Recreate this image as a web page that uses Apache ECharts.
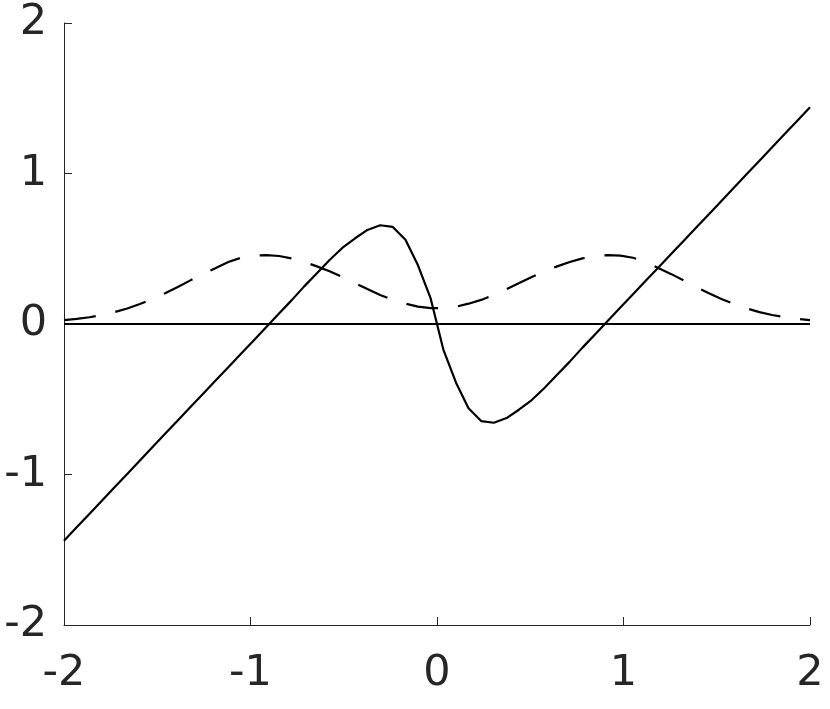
<!DOCTYPE html>
<html>
<head>
<meta charset="utf-8">
<script src="https://cdn.jsdelivr.net/npm/echarts@6/dist/echarts.min.js"></script>
<style>html,body{margin:0;padding:0;background:#fff;}#c{width:830px;height:709px;}</style>
</head>
<body>
<div id="c"></div>
<script>
var xs = [-2.000,-1.932,-1.864,-1.797,-1.729,-1.661,-1.593,-1.525,-1.458,-1.390,
  -1.322,-1.254,-1.186,-1.119,-1.051,-0.983,-0.915,-0.847,-0.780,-0.712,
  -0.644,-0.576,-0.508,-0.441,-0.373,-0.305,-0.237,-0.169,-0.102,-0.034,
  0.034,0.102,0.169,0.237,0.305,0.373,0.441,0.508,0.576,0.644,
  0.712,0.780,0.847,0.915,0.983,1.051,1.119,1.186,1.254,1.322,
  1.390,1.458,1.525,1.593,1.661,1.729,1.797,1.864,1.932,2.000];
var solidY = [-1.440,-1.351,-1.262,-1.174,-1.085,-0.996,-0.907,-0.818,-0.730,-0.641,
  -0.552,-0.463,-0.374,-0.287,-0.198,-0.109,-0.020,0.069,0.157,0.250,
  0.337,0.425,0.505,0.568,0.625,0.656,0.645,0.560,0.390,0.170,
  -0.170,-0.390,-0.560,-0.645,-0.656,-0.625,-0.568,-0.505,-0.425,-0.337,
  -0.250,-0.157,-0.069,0.020,0.109,0.198,0.287,0.374,0.463,0.552,
  0.641,0.730,0.818,0.907,0.996,1.085,1.174,1.262,1.351,1.440];
var dashY = [0.026,0.034,0.045,0.060,0.079,0.103,0.133,0.166,0.204,0.246,
  0.290,0.333,0.372,0.412,0.440,0.454,0.458,0.452,0.436,0.412,
  0.383,0.350,0.312,0.272,0.232,0.193,0.160,0.135,0.115,0.106,
  0.106,0.115,0.135,0.160,0.193,0.232,0.272,0.312,0.350,0.383,
  0.412,0.436,0.452,0.458,0.454,0.440,0.412,0.372,0.333,0.290,
  0.246,0.204,0.166,0.133,0.103,0.079,0.060,0.045,0.034,0.026];
var zeroX = [-2, 2];
var zeroY = [0, 0];
var xTicks = [-2, -1, 0, 1, 2];
var yTicks = [-2, -1, 0, 1, 2];

function pairs(a, b){ return a.map(function(v,i){ return [v, b[i]]; }); }

var axisCommon = {
  type: 'value', min: -2, max: 2, interval: 1,
  axisLine: { show: true, onZero: false, lineStyle: { color: '#262626', width: 1 } },
  axisTick: { show: true, inside: true, length: 8, lineStyle: { color: '#262626', width: 1 } },
  splitLine: { show: false },
  axisLabel: { color: '#262626', fontFamily: 'DejaVu Sans', fontSize: 43 }
};
var chart = echarts.init(document.getElementById('c'), null, { renderer: 'canvas' });
chart.setOption({
  animation: false,
  backgroundColor: '#ffffff',
  grid: { left: 64, right: 20, top: 23, bottom: 84, containLabel: false },
  xAxis: Object.assign({}, axisCommon, {
    axisLabel: Object.assign({}, axisCommon.axisLabel, { margin: 27,
      formatter: function(v){ return xTicks.indexOf(v) >= 0 ? String(v) : ''; } })
  }),
  yAxis: Object.assign({}, axisCommon, {
    axisLabel: Object.assign({}, axisCommon.axisLabel, { margin: 17, padding: [7, 0, 0, 0],
      formatter: function(v){ return yTicks.indexOf(v) >= 0 ? String(v) : ''; } })
  }),
  series: [
    { type: 'line', data: pairs(zeroX, zeroY), showSymbol: false, silent: true,
      lineStyle: { color: '#000', width: 2.2 } },
    { type: 'line', data: pairs(xs, dashY), showSymbol: false, silent: true,
      lineStyle: { color: '#000', width: 2.2, type: [32, 20] } },
    { type: 'line', data: pairs(xs, solidY), showSymbol: false, silent: true,
      lineStyle: { color: '#000', width: 2.2 } }
  ]
});
</script>
</body>
</html>
